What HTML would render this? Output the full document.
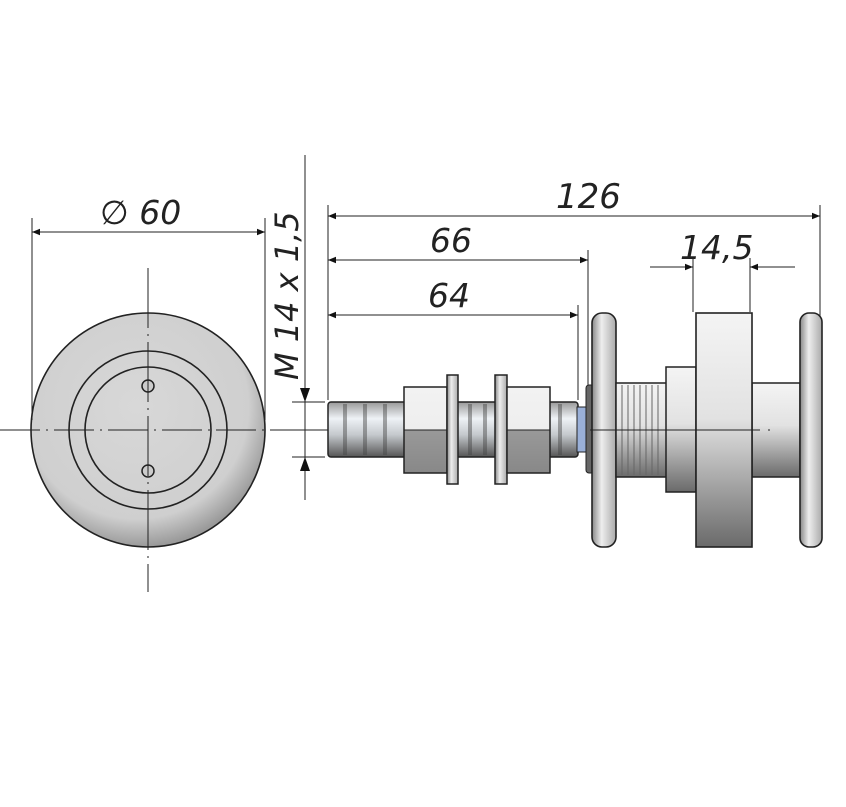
<!DOCTYPE html>
<html><head><meta charset="utf-8"><style>
html,body{margin:0;padding:0;background:#fff;}
svg{display:block;}
text{font-family:"DejaVu Sans","Liberation Sans",sans-serif;font-style:italic;fill:#222;}
</style></head><body>
<svg width="846" height="807" viewBox="0 0 846 807" xmlns="http://www.w3.org/2000/svg">
<defs>
<linearGradient id="v" x1="0" y1="0" x2="0" y2="1">
<stop offset="0" stop-color="#f4f4f4"/><stop offset="0.45" stop-color="#e2e2e2"/><stop offset="1" stop-color="#6a6a6a"/></linearGradient>
<linearGradient id="b" x1="0" y1="0" x2="0" y2="1">
<stop offset="0" stop-color="#999"/><stop offset="0.3" stop-color="#eef2f6"/><stop offset="0.6" stop-color="#c4c8cc"/><stop offset="1" stop-color="#555"/></linearGradient>
<linearGradient id="nut" x1="0" y1="0" x2="0" y2="1">
<stop offset="0" stop-color="#f2f2f2"/><stop offset="0.5" stop-color="#eee"/><stop offset="0.5" stop-color="#999"/><stop offset="1" stop-color="#888"/></linearGradient>
<linearGradient id="h" x1="0" y1="0" x2="1" y2="0">
<stop offset="0" stop-color="#888"/><stop offset="0.4" stop-color="#eee"/><stop offset="1" stop-color="#aaa"/></linearGradient>
<radialGradient id="disc" cx="0.45" cy="0.4" r="0.6"><stop offset="0" stop-color="#d8d8d8"/><stop offset="0.8" stop-color="#cfcfcf"/><stop offset="1" stop-color="#9a9a9a"/></radialGradient>
<marker id="a" viewBox="0 0 10 10" refX="10" refY="5" markerWidth="16" markerHeight="8" markerUnits="userSpaceOnUse" orient="auto-start-reverse"><path d="M0,1 L10,5 L0,9z" fill="#111"/></marker>
</defs>

<!-- left view -->
<circle cx="148" cy="430" r="117" fill="url(#disc)" stroke="#222" stroke-width="1.6"/>
<circle cx="148" cy="430" r="79" fill="none" stroke="#222" stroke-width="1.6"/>
<circle cx="148" cy="430" r="63" fill="none" stroke="#222" stroke-width="1.6"/>
<circle cx="148" cy="386" r="6" fill="#ccc" stroke="#222" stroke-width="1.5"/>
<circle cx="148" cy="471" r="6" fill="#ccc" stroke="#222" stroke-width="1.5"/>
<line x1="148" y1="268" x2="148" y2="592" stroke="#222" stroke-width="1" stroke-dasharray="60,6,2,6"/>
<line x1="0" y1="430" x2="300" y2="430" stroke="#222" stroke-width="1" stroke-dasharray="40,6,2,6"/>
<line x1="300" y1="430" x2="770" y2="430" stroke="#222" stroke-width="1" stroke-dasharray="420,8,10,6"/>

<!-- Ø60 -->
<line x1="32" y1="218" x2="32" y2="420" stroke="#222"/>
<line x1="265" y1="218" x2="265" y2="420" stroke="#222"/>
<line x1="32" y1="232" x2="265" y2="232" stroke="#222" marker-start="url(#a)" marker-end="url(#a)"/>
<text x="100" y="224" font-size="33">∅ 60</text>

<!-- M14 -->
<line x1="305" y1="155" x2="305" y2="500" stroke="#222"/>
<path d="M300,388 L305,402 L310,388z M300,471 L305,457 L310,471z" fill="#111"/>
<line x1="292" y1="402" x2="325" y2="402" stroke="#222"/>
<line x1="292" y1="457" x2="325" y2="457" stroke="#222"/>
<text transform="translate(298,380) rotate(-90)" font-size="32">M 14 x 1,5</text>

<!-- extension lines -->
<line x1="328" y1="205" x2="328" y2="400" stroke="#222"/>
<line x1="588" y1="250" x2="588" y2="395" stroke="#222"/>
<line x1="578" y1="305" x2="578" y2="400" stroke="#222"/>
<line x1="820" y1="205" x2="820" y2="318" stroke="#222"/>
<line x1="693" y1="258" x2="693" y2="312" stroke="#222"/>
<line x1="750" y1="258" x2="750" y2="312" stroke="#222"/>

<line x1="328" y1="216" x2="820" y2="216" stroke="#222" marker-start="url(#a)" marker-end="url(#a)"/>
<text x="556" y="208" font-size="34">126</text>
<line x1="328" y1="260" x2="588" y2="260" stroke="#222" marker-start="url(#a)" marker-end="url(#a)"/>
<text x="430" y="252" font-size="33">66</text>
<line x1="328" y1="315" x2="578" y2="315" stroke="#222" marker-start="url(#a)" marker-end="url(#a)"/>
<text x="428" y="307" font-size="33">64</text>
<line x1="650" y1="267" x2="693" y2="267" stroke="#222" marker-end="url(#a)"/>
<line x1="795" y1="267" x2="750" y2="267" stroke="#222" marker-end="url(#a)"/>
<text x="680" y="259" font-size="33">14,5</text>

<!-- bolt -->
<rect x="328" y="402" width="250" height="55" rx="3" fill="url(#b)" stroke="#222" stroke-width="1.5"/>
<g stroke="#444" stroke-width="4" opacity="0.45">
<line x1="345" y1="404" x2="345" y2="455"/><line x1="365" y1="404" x2="365" y2="455"/><line x1="385" y1="404" x2="385" y2="455"/>
<line x1="470" y1="404" x2="470" y2="455"/><line x1="485" y1="404" x2="485" y2="455"/>
<line x1="560" y1="404" x2="560" y2="455"/></g>
<rect x="404" y="387" width="43" height="86" fill="url(#nut)" stroke="#222" stroke-width="1.5"/>
<line x1="404" y1="430" x2="447" y2="430" stroke="#222"/>
<rect x="447" y="375" width="11" height="109" fill="url(#h)" stroke="#222" stroke-width="1.5"/>
<rect x="495" y="375" width="12" height="109" fill="url(#h)" stroke="#222" stroke-width="1.5"/>
<rect x="507" y="387" width="43" height="86" fill="url(#nut)" stroke="#222" stroke-width="1.5"/>
<line x1="507" y1="430" x2="550" y2="430" stroke="#222"/>
<rect x="577" y="407" width="12" height="45" fill="#9ab0d8" stroke="#222"/>
<rect x="586" y="385" width="8" height="88" rx="3" fill="#666" stroke="#222"/>

<!-- right assembly -->
<rect x="592" y="313" width="24" height="234" rx="10" fill="url(#h)" stroke="#222" stroke-width="1.6"/>
<rect x="616" y="383" width="52" height="94" fill="url(#v)" stroke="#222" stroke-width="1.5"/>
<g stroke="#666" stroke-width="1">
<line x1="622" y1="385" x2="622" y2="475"/><line x1="628" y1="385" x2="628" y2="475"/><line x1="634" y1="385" x2="634" y2="475"/><line x1="640" y1="385" x2="640" y2="475"/><line x1="646" y1="385" x2="646" y2="475"/><line x1="652" y1="385" x2="652" y2="475"/><line x1="658" y1="385" x2="658" y2="475"/></g>
<rect x="666" y="367" width="30" height="125" fill="url(#v)" stroke="#222" stroke-width="1.5"/>
<rect x="752" y="383" width="48" height="94" fill="url(#v)" stroke="#222" stroke-width="1.5"/>
<rect x="696" y="313" width="56" height="234" fill="url(#v)" stroke="#222" stroke-width="1.6"/>
<rect x="800" y="313" width="22" height="234" rx="9" fill="url(#h)" stroke="#222" stroke-width="1.6"/>
<line x1="590" y1="430" x2="770" y2="430" stroke="#222" stroke-width="1" stroke-dasharray="170,8,10,6"/>
</svg>
</body></html>
